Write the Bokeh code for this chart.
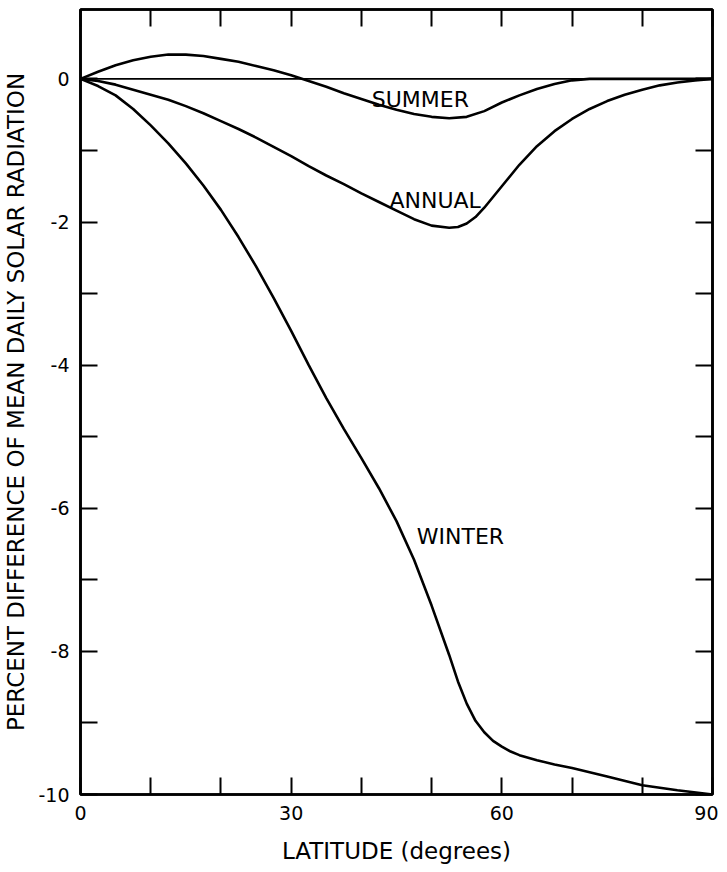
from bokeh.plotting import figure
from bokeh.models import LinearAxis, FixedTicker, Span, Label, Range1d
from bokeh.embed import file_html
from bokeh.resources import INLINE

# ---- data ----
lat_summer = [0, 2.5, 5, 7.5, 10, 12.5, 15, 17.5, 20, 22.5, 25, 27.5, 30, 32.5, 35, 37.5,
              40, 42.5, 45, 47.5, 50, 52.5, 55, 57.5, 60, 62.5, 65, 67.5, 70, 72.5, 75, 80, 85, 90]
summer = [0, 0.10, 0.19, 0.26, 0.31, 0.34, 0.34, 0.32, 0.28, 0.24, 0.18, 0.12, 0.05, -0.03,
          -0.11, -0.20, -0.28, -0.36, -0.43, -0.49, -0.53, -0.55, -0.53, -0.45, -0.33, -0.23,
          -0.14, -0.07, -0.02, 0, 0, 0, 0, 0]

lat_annual = [0, 2.5, 5, 7.5, 10, 12.5, 15, 17.5, 20, 22.5, 25, 27.5, 30, 32.5, 35, 37.5,
              40, 42.5, 45, 47.5, 50, 52.5, 53.75, 55, 56.25, 57.5, 58.75, 60, 62.5, 65, 67.5,
              70, 72.5, 75, 77.5, 80, 82.5, 85, 87.5, 90]
annual = [0, -0.03, -0.08, -0.15, -0.22, -0.29, -0.38, -0.48, -0.59, -0.70, -0.82, -0.95,
          -1.08, -1.22, -1.35, -1.47, -1.60, -1.72, -1.84, -1.96, -2.05, -2.08, -2.07, -2.02,
          -1.93, -1.80, -1.65, -1.50, -1.20, -0.94, -0.73, -0.56, -0.42, -0.31, -0.22, -0.15,
          -0.09, -0.05, -0.02, 0]

lat_winter = [0, 2.5, 5, 7.5, 10, 12.5, 15, 17.5, 20, 22.5, 25, 27.5, 30, 32.5, 35, 37.5,
              40, 42.5, 45, 47.5, 50, 52.5, 53.75, 55, 56.25, 57.5, 58.75, 60, 61.25, 62.5,
              65, 67.5, 70, 75, 80, 85, 90]
winter = [0, -0.10, -0.23, -0.42, -0.65, -0.90, -1.18, -1.49, -1.83, -2.21, -2.62, -3.06,
          -3.52, -4.00, -4.46, -4.89, -5.30, -5.72, -6.18, -6.72, -7.36, -8.05, -8.42, -8.73,
          -8.97, -9.13, -9.25, -9.33, -9.40, -9.45, -9.52, -9.58, -9.63, -9.75, -9.87, -9.94,
          -10.0]

x_ticks = [0, 10, 20, 30, 40, 50, 60, 70, 80, 90]
x_labels = {0: "0", 30: "30", 60: "60", 90: "90"}
y_ticks = [0, -1, -2, -3, -4, -5, -6, -7, -8, -9, -10]
y_labels = {0: "0", -2: "-2", -4: "-4", -6: "-6", -8: "-8", -10: "-10"}

series_labels = [("SUMMER", 48.4, -0.29), ("ANNUAL", 50.5, -1.70), ("WINTER", 54.1, -6.40)]

FONT = "DejaVu Sans"
LW = 2.6

p = figure(width=718, height=868, output_backend="svg", toolbar_location=None,
           x_range=Range1d(0, 90), y_range=Range1d(-10, 0.97),
           min_border_left=79, min_border_right=6, min_border_top=9, min_border_bottom=74,
           x_axis_location=None, y_axis_location=None)
p.grid.visible = False
p.outline_line_color = "black"
p.outline_line_width = LW
p.background_fill_color = "white"
p.border_fill_color = "white"


def make_axis(ticks, labels, label_text=None, show_labels=True):
    ax = LinearAxis(ticker=FixedTicker(ticks=ticks))
    ax.major_label_overrides = {k: (labels.get(k, "") if show_labels else "") for k in ticks}
    ax.major_tick_in = 17
    ax.major_tick_out = 0
    ax.minor_tick_in = 0
    ax.minor_tick_out = 0
    ax.major_tick_line_width = 2
    ax.major_tick_line_color = "black"
    ax.axis_line_color = "black"
    ax.axis_line_width = LW
    ax.major_label_text_font = FONT
    ax.major_label_text_font_size = "19px" if show_labels else "0px"
    ax.major_label_text_color = "black"
    ax.major_label_standoff = 11 if show_labels else 0
    if label_text:
        ax.axis_label = label_text
        ax.axis_label_text_font = FONT
        ax.axis_label_text_font_size = "23px"
        ax.axis_label_text_font_style = "normal"
        ax.axis_label_text_color = "black"
    return ax


bottom = make_axis(x_ticks, x_labels, "LATITUDE (degrees)")
bottom.axis_label_standoff = 15
p.add_layout(bottom, "below")
p.add_layout(make_axis(x_ticks, x_labels, show_labels=False), "above")
left = make_axis(y_ticks, y_labels, "PERCENT DIFFERENCE OF MEAN DAILY SOLAR RADIATION")
left.axis_label_standoff = 6
p.add_layout(left, "left")
p.add_layout(make_axis(y_ticks, y_labels, show_labels=False), "right")

p.add_layout(Span(location=0, dimension="width", line_color="black", line_width=1.6))

p.line(lat_summer, summer, line_color="black", line_width=LW)
p.line(lat_annual, annual, line_color="black", line_width=LW)
p.line(lat_winter, winter, line_color="black", line_width=LW)

for txt, lx, ly in series_labels:
    p.add_layout(Label(x=lx, y=ly, text=txt, text_align="center", text_baseline="middle",
                       text_font=FONT, text_font_size="22px", text_color="black"))

open("out.html", "w").write(file_html(p, INLINE))
